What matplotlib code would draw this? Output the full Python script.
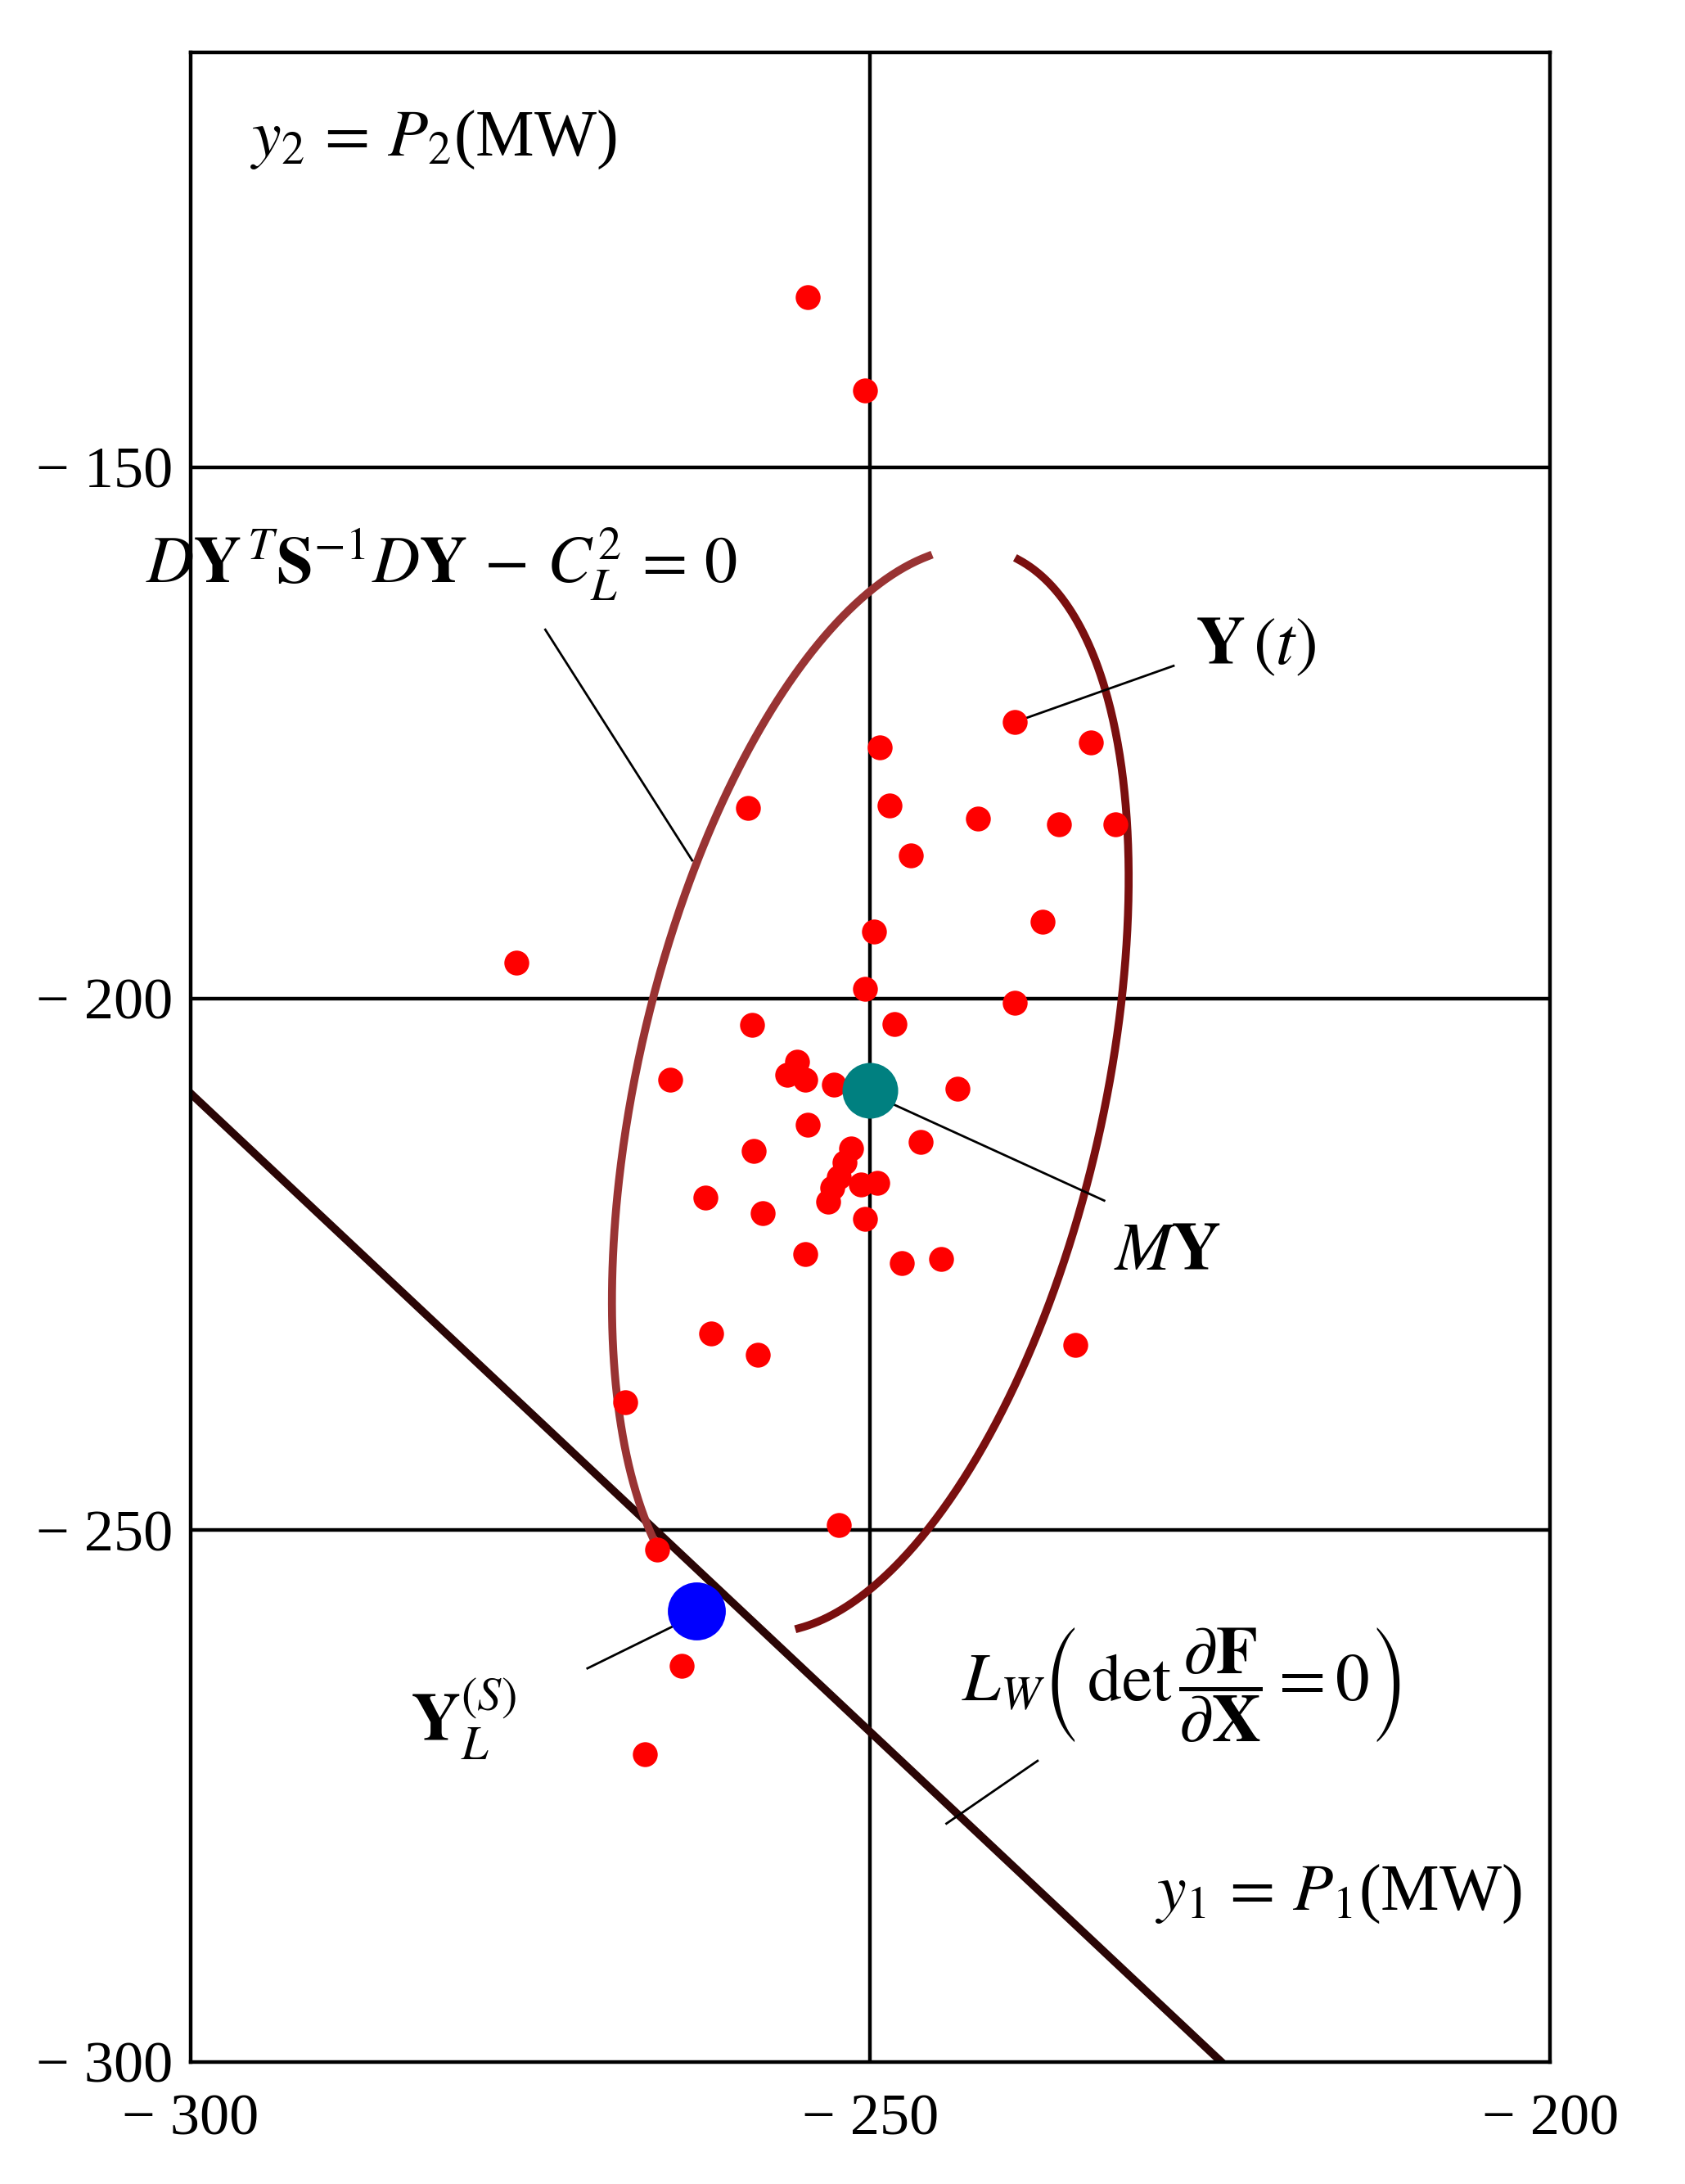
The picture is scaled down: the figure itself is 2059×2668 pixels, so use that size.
import numpy as np
import matplotlib
matplotlib.use('Agg')
import matplotlib.pyplot as plt

plt.rcParams['font.family'] = ['Liberation Serif', 'DejaVu Serif']
plt.rcParams['mathtext.fontset'] = 'stix'

# ── Data ──────────────────────────────────────────────
px = [-254.6, -250.4, -239.4, -233.8, -249.3, -248.6, -259.0, -242.1, -236.1, -232.0,
      -247.0, -237.3, -249.7, -276.0, -250.4, -239.4, -258.7, -248.2, -255.4, -256.1,
      -254.8, -264.7, -252.7, -243.6, -254.6, -246.3, -258.6, -251.4, -251.9, -252.3,
      -252.8, -249.5, -250.7, -262.1, -253.1, -257.9, -250.4, -254.8, -247.7, -244.8,
      -261.7, -258.3, -234.9, -268.0, -252.3, -265.7, -263.9, -266.6]
py = [-134.0, -142.8, -174.0, -175.9, -176.4, -181.8, -182.1, -183.1, -183.6, -183.6,
      -186.5, -192.8, -193.7, -196.6, -199.1, -200.4, -202.5, -202.4, -205.9, -207.2,
      -207.6, -207.6, -208.1, -208.5, -211.9, -213.5, -214.3, -214.1, -215.4, -216.8,
      -217.8, -217.3, -217.5, -218.7, -219.1, -220.2, -220.7, -224.0, -224.9, -224.5,
      -231.5, -233.5, -232.6, -238.0, -249.5, -251.8, -262.8, -271.1]
mean_y = (-250.0, -208.6)
ys_pt = (-262.8, -257.6)
line_x = [-300.0, -224.2]
line_y = [-208.9, -300.0]
# ellipse: x = cx + A sin t, y = cy + B sin(t + phi)
ell_a, ell_b, ell_phi = 19.0, 51.0, 67.0
arc_right = (35, 196)
arc_left = (237, 373)

fig = plt.figure(figsize=(10.295, 13.34), dpi=200, facecolor='white')
ax = fig.add_axes([0.113, 0.056, 0.807, 0.92])
ax.set_xlim(-300, -200)
ax.set_ylim(-300, -111)

for v in [-150, -200, -250]:
    ax.axhline(v, color='black', lw=1.6, zorder=1)
ax.axvline(-250, color='black', lw=1.6, zorder=1)

ax.plot(line_x, line_y, color='#2a0505', lw=3.5, zorder=2)

def arc(t0, t1):
    t = np.radians(np.linspace(t0, t1, 300))
    return (mean_y[0] + ell_a * np.sin(t),
            mean_y[1] + ell_b * np.sin(t + np.radians(ell_phi)))

ax.plot(*arc(*arc_left), color='#993333', lw=3.5, zorder=2)
ax.plot(*arc(*arc_right), color='#7a0f0f', lw=3.5, zorder=2)

ax.scatter(px, py, s=120, color='#ff0000', zorder=3, linewidths=0)
ax.scatter(*mean_y, s=600, color='#008080', zorder=4, linewidths=0)
ax.scatter(*ys_pt, s=650, color='#0000ff', zorder=4, linewidths=0)

# leader lines
for (x0, y0), (x1, y1) in [((-273.9, -165.3), (-263.1, -187.0)),
                           ((-239.4, -174.0), (-227.7, -168.7)),
                           ((-248.9, -209.6), (-232.8, -219.0)),
                           ((-270.8, -263.0), (-263.8, -258.6)),
                           ((-244.4, -277.6), (-237.7, -271.7))]:
    ax.plot([x0, x1], [y0, y1], color='black', lw=1.0, zorder=2)

fs = 29
ax.text(-295.6, -119.2, r'$y_2\,=\,P_2$(MW)', fontsize=fs, va='center')
ax.text(-303.3, -159.2, r'$D\mathbf{Y}^{\,T}\mathbf{S}^{-1}D\mathbf{Y}\,-\,C_L^2\,=\,0$',
        fontsize=29, va='center', clip_on=False)
ax.text(-226.1, -167.0, r'$\mathbf{Y}\,(t)$', fontsize=30, va='center')
ax.text(-232.1, -224.0, r'$M\mathbf{Y}$', fontsize=30, va='center')
ax.text(-283.8, -267.8, r'$\mathbf{Y}_L^{(S)}$', fontsize=30, va='center')
ax.text(-243.3, -264.5, r'$L_W\left(\,\det\dfrac{\partial\mathbf{F}}{\partial\mathbf{X}}=0\right)$',
        fontsize=30, va='center')
ax.text(-229.0, -284.2, r'$y_1\,=\,P_1$(MW)', fontsize=fs, va='center')

ax.set_xticks([-300, -250, -200])
ax.set_xticklabels(['− 300', '− 250', '− 200'], fontsize=26)
ax.set_yticks([-300, -250, -200, -150])
ax.set_yticklabels(['− 300', '− 250', '− 200', '− 150'], fontsize=26)
ax.tick_params(length=0)
ax.tick_params(axis='x', pad=14)
for lab in ax.get_yticklabels():
    lab.set_horizontalalignment('left')
ax.tick_params(axis='y', pad=68)
for s in ax.spines.values():
    s.set_linewidth(1.6)

fig.savefig('out.png', dpi=200, facecolor='white')
